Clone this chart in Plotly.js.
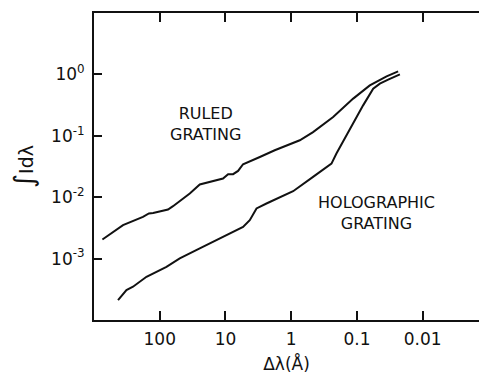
<!DOCTYPE html>
<html>
<head>
<meta charset="utf-8">
<script src="https://cdn.plot.ly/plotly-3.0.1.min.js"></script>
<style>
  html, body { margin: 0; padding: 0; background: #fff; }
  #chart { width: 479px; height: 374px; }
</style>
</head>
<body>
<div id="chart"></div>
<script>
// Integrated intensity vs. wavelength offset (Å), log-log, x reversed
const ruledDl = [745, 362, 180, 146, 126, 74.8, 62.8, 34.9, 24.6, 10.9, 9.12, 7.65, 6.43, 5.4, 3.0, 1.78, 0.74, 0.465, 0.23, 0.114, 0.0637, 0.0354, 0.0236];
const ruledI  = [2.05e-3, 3.5e-3, 4.78e-3, 5.43e-3, 5.55e-3, 6.31e-3, 7.14e-3, 1.15e-2, 1.61e-2, 2.01e-2, 2.37e-2, 2.37e-2, 2.68e-2, 3.44e-2, 4.52e-2, 5.81e-2, 8.45e-2, 0.115, 0.202, 0.403, 0.663, 0.93, 1.12];

const holoDl = [431, 321, 255, 159, 79, 49.6, 24.6, 12.2, 5.4, 4.27, 3.37, 2.38, 0.935, 0.465, 0.244, 0.205, 0.128, 0.0805, 0.0566, 0.0448, 0.0335, 0.0222];
const holoI  = [2.11e-4, 3.08e-4, 3.48e-4, 5.06e-4, 7.36e-4, 1.01e-3, 1.47e-3, 2.13e-3, 3.29e-3, 4.23e-3, 6.55e-3, 7.9e-3, 1.25e-2, 2.14e-2, 3.53e-2, 5.14e-2, 0.131, 0.313, 0.585, 0.706, 0.82, 1.0];

const xTickVals = [100, 10, 1, 0.1, 0.01];
const xTickText = ['100', '10', '1', '0.1', '0.01'];
const yTickVals = [1, 0.1, 0.01, 0.001];
const yTickText = ['10<sup>0</sup>', '10<sup>-1</sup>', '10<sup>-2</sup>', '10<sup>-3</sup>'];

const labelRuled = {x: 20, y: 0.153, text: 'RULED<br>GRATING'};
const labelHolo  = {x: 0.0507, y: 5.6e-3, text: 'HOLOGRAPHIC<br>GRATING'};

const FONT = 'DejaVu Sans, sans-serif';
const lineStyle = {color: '#111', width: 2};

const traces = [
  {x: ruledDl, y: ruledI, mode: 'lines', line: lineStyle, name: 'Ruled grating', hoverinfo: 'skip'},
  {x: holoDl, y: holoI, mode: 'lines', line: lineStyle, name: 'Holographic grating', hoverinfo: 'skip'}
];

const layout = {
  width: 479, height: 374,
  margin: {l: 94, r: 0, t: 13, b: 54},
  paper_bgcolor: '#fff', plot_bgcolor: '#fff',
  showlegend: false,
  font: {family: FONT, size: 16, color: '#111'},
  xaxis: {
    type: 'log', range: [3, -2.857],
    showgrid: false, zeroline: false,
    showline: true, linecolor: '#111', linewidth: 2, mirror: 'ticks',
    ticks: 'inside', ticklen: 9, tickwidth: 2, tickcolor: '#111',
    tickmode: 'array', tickvals: xTickVals, ticktext: xTickText,
    tickfont: {family: FONT, size: 17},
    ticklabelstandoff: 3,
    title: {text: 'Δλ(Å)', font: {family: FONT, size: 17}, standoff: 10}
  },
  yaxis: {
    type: 'log', range: [-4, 1],
    showgrid: false, zeroline: false,
    showline: true, linecolor: '#111', linewidth: 2, mirror: false,
    ticks: 'inside', ticklen: 8, tickwidth: 2, tickcolor: '#111',
    tickmode: 'array', tickvals: yTickVals, ticktext: yTickText,
    tickfont: {family: FONT, size: 17},
    ticklabelstandoff: 4,
    title: {text: '<span style="font-size:27px">∫</span>Idλ', font: {family: FONT, size: 19}, standoff: 12}
  },
  annotations: [labelRuled, labelHolo].map(a => ({
    x: Math.log10(a.x), y: Math.log10(a.y), xref: 'x', yref: 'y',
    text: a.text, showarrow: false, align: 'center',
    font: {family: FONT, size: 16, color: '#111'}
  }))
};

Plotly.newPlot('chart', traces, layout, {displayModeBar: false, staticPlot: true});
</script>
</body>
</html>
